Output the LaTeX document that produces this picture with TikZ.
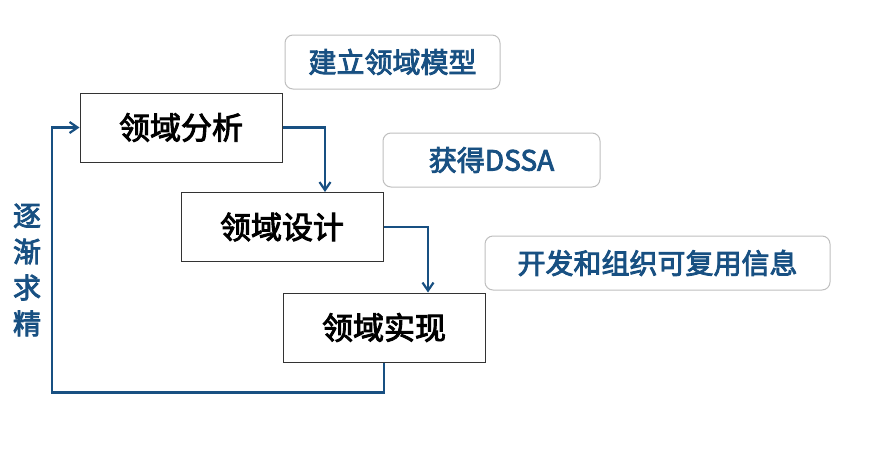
\documentclass[tikz,border=0pt]{standalone}
\usepackage{fontspec}
\setmainfont{Noto Sans CJK SC}[BoldFont={Noto Sans CJK SC}, BoldFeatures={FakeBold=3}]
\usetikzlibrary{arrows.meta,positioning}
\definecolor{flowblue}{RGB}{24,80,130}
\begin{document}
\begin{tikzpicture}[
    x=1pt, y=-1pt,
    font=\bfseries,
    stage/.style = {draw=black!80, line width=1pt, minimum width=202pt, minimum height=69pt, font=\bfseries\fontsize{31}{31}\selectfont},
    note/.style = {draw=black!25, line width=1pt, rounded corners=8pt, fill=white, text=flowblue, minimum height=54pt, font=\bfseries\fontsize{28}{28}\selectfont},
    line/.style = {-{Straight Barb[length=8pt,width=11pt]}, draw=flowblue, line width=2.2pt}
    ]
    \useasboundingbox (0,0) rectangle (872,458);
    \node[note, minimum width=215pt] (n1) at (392.5,62) {建立领域模型};
    \node[note, minimum width=217pt] (n2) at (491.5,160) {获得DSSA};
    \node[note, minimum width=345pt] (n3) at (657.5,263) {开发和组织可复用信息};
    \node[stage] (analyse) at (181,127.5) {领域分析};
    \node[stage] (design) at (282,227) {领域设计};
    \node[stage] (impl) at (384,327.5) {领域实现};
    \node[text=flowblue, align=center, font=\bfseries\fontsize{28}{36}\selectfont] (refine) at (27,270) {逐\\渐\\求\\精};
    % flow between stages
    \draw[line] (analyse.east) -| (design.north -| 325,0);
    \draw[line] (design.east) -| (impl.north -| 428,0);
    \draw[line] (impl.south) -- ++(0,30) -| (52,127.5) -- (analyse.west);
\end{tikzpicture}
\end{document}
